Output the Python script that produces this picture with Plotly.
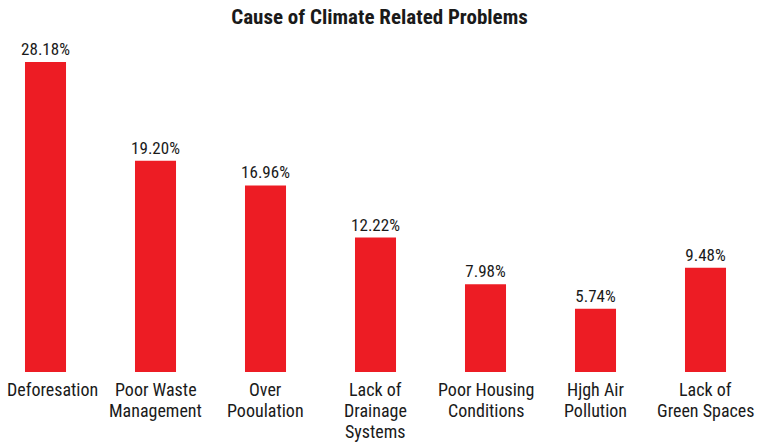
import plotly.graph_objects as go

categories = [
    "Deforesation",
    "Poor Waste<br>Management",
    "Over<br>Pooulation",
    "Lack of<br>Drainage<br>Systems",
    "Poor Housing<br>Conditions",
    "Hjgh Air<br>Pollution",
    "Lack of<br>Green Spaces",
]
shares = [28.18, 19.20, 16.96, 12.22, 7.98, 5.74, 9.48]
value_labels = [f"{v:.2f}%" for v in shares]

BAR_RED = "#ED1C24"
TEXT = "#1a1a1a"
FONT = "Roboto Condensed, DejaVu Sans Condensed, sans-serif"
LINE_GAP = 21  # px between lines of a category name

fig = go.Figure(
    go.Bar(
        x=categories,
        y=shares,
        text=value_labels,
        textposition="outside",
        constraintext="none",
        cliponaxis=False,
        textfont=dict(family=FONT, size=17, color=TEXT),
        marker=dict(color=BAR_RED, line=dict(width=0)),
        width=0.373,
    )
)

# category names under each bar, one annotation per line for tighter leading;
# the first one is nudged so it stays on the page
for i, name in enumerate(categories):
    for j, line in enumerate(name.split("<br>")):
        fig.add_annotation(
            x=name,
            y=0,
            xref="x",
            yref="paper",
            text=line,
            showarrow=False,
            xanchor="center",
            yanchor="top",
            yshift=-(5 + LINE_GAP * j),
            xshift=7 if i == 0 else 0,
            font=dict(family=FONT, size=18, color=TEXT),
        )

plot_top, plot_bottom = 40, 71
plot_h = 443 - plot_top - plot_bottom
px_per_unit = 11.0

fig.update_layout(
    width=759,
    height=443,
    margin=dict(l=0, r=0, t=plot_top, b=plot_bottom, pad=0),
    paper_bgcolor="white",
    plot_bgcolor="white",
    showlegend=False,
    title=dict(
        text="<b>Cause of Climate Related Problems</b>",
        x=0.5,
        xanchor="center",
        y=1 - 17 / 443,
        yanchor="middle",
        font=dict(family=FONT, size=21, color=TEXT),
    ),
    xaxis=dict(
        range=[-45.5 / 110, -45.5 / 110 + 759 / 110],
        automargin=False,
        showgrid=False,
        showline=False,
        zeroline=False,
        ticks="",
        showticklabels=False,
    ),
    yaxis=dict(
        range=[0, plot_h / px_per_unit],
        automargin=False,
        visible=False,
        showgrid=False,
        zeroline=False,
    ),
)

fig.write_html("out.html")
